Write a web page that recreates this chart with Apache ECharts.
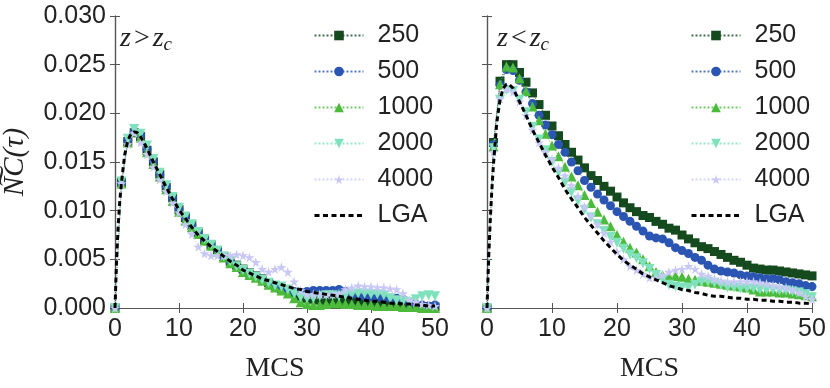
<!DOCTYPE html>
<html>
<head>
<meta charset="utf-8">
<script src="https://cdn.jsdelivr.net/npm/echarts@6/dist/echarts.min.js"></script>
<style>
  html, body { margin: 0; padding: 0; background: #fff; }
  #chart { width: 830px; height: 388px; }
</style>
</head>
<body>
<div id="chart"></div>
<script>
// MCS steps
const mcs = [0,1,2,3,4,5,6,7,8,9,10,11,12,13,14,15,16,17,18,19,20,21,22,23,24,25,
  26,27,28,29,30,31,32,33,34,35,36,37,38,39,40,41,42,43,44,45,46,47,48,49,50];
// LGA curve is sampled finer near the origin
const lgaT = [0,0.25,0.5,0.75,1,1.5,2,2.5,3,3.5,4,5,6,7,8,9,10,11,12,13,14,15,16,17,18,19,20,
  21,22,23,24,25,26,27,28,29,30,31,32,33,34,35,36,37,38,39,40,41,42,43,44,45,46,47,48,49,50];

const simNames = ['250', '500', '1000', '2000', '4000'];

// left panel, z > z_c
const left250 = [0,0.0129,0.0171,0.0180,0.0176,0.0162,0.0150,0.0137,0.0124,0.0113,0.0101,
  0.0093,0.0085,0.0077,0.0070,0.0065,0.0058,0.0053,0.0048,0.0044,0.0040,
  0.0036,0.0033,0.0030,0.0026,0.0023,0.0020,0.0018,0.0015,0.0012,0.0010,
  0.0009,0.0008,0.0007,0.0007,0.0007,0.0007,0.0007,0.0006,0.0006,0.0005,
  0.0004,0.0004,0.0003,0.0003,0.0002,0.0002,0.0002,0.0001,0.0001,0.0001];
const left500 = [0,0.0128,0.0172,0.0181,0.0177,0.0163,0.0151,0.0137,0.0125,0.0113,0.0102,
  0.0093,0.0085,0.0077,0.0071,0.0065,0.0059,0.0053,0.0047,0.0043,0.0039,
  0.0035,0.0032,0.0029,0.0026,0.0023,0.0021,0.0019,0.0017,0.0016,0.0017,
  0.0018,0.0018,0.0018,0.0018,0.0019,0.0017,0.0014,0.0013,0.0012,0.0011,
  0.0011,0.0011,0.0010,0.0010,0.0009,0.0006,0.0004,0.0003,0.0002,0.0003];
const left1000 = [0,0.0128,0.0170,0.0181,0.0175,0.0160,0.0148,0.0135,0.0122,0.0110,0.0099,
  0.0090,0.0083,0.0076,0.0069,0.0064,0.0058,0.0052,0.0046,0.0042,0.0037,
  0.0034,0.0031,0.0028,0.0024,0.0021,0.0018,0.0015,0.0010,0.0006,0.0004,
  0.0003,0.0003,0.0004,0.0005,0.0005,0.0004,0.0004,0.0003,0.0003,0.0003,
  0.0002,0.0002,0.0002,0.0002,0.0001,0.0001,0.0001,0.0000,0.0000,0.0000];
const left2000 = [0,0.0130,0.0174,0.0184,0.0179,0.0167,0.0153,0.0139,0.0126,0.0114,0.0103,
  0.0094,0.0086,0.0078,0.0071,0.0065,0.0059,0.0053,0.0048,0.0043,0.0039,
  0.0035,0.0032,0.0029,0.0026,0.0023,0.0022,0.0019,0.0015,0.0011,0.0010,
  0.0010,0.0012,0.0013,0.0013,0.0012,0.0013,0.0014,0.0015,0.0015,0.0014,
  0.0014,0.0013,0.0010,0.0008,0.0007,0.0006,0.0009,0.0012,0.0013,0.0012];
const left4000 = [0,0.0128,0.0168,0.0180,0.0170,0.0158,0.0145,0.0132,0.0120,0.0108,0.0098,
  0.0086,0.0076,0.0063,0.0056,0.0054,0.0054,0.0054,0.0054,0.0055,0.0054,
  0.0052,0.0047,0.0040,0.0037,0.0040,0.0042,0.0037,0.0027,0.0018,0.0014,
  0.0014,0.0014,0.0014,0.0014,0.0015,0.0019,0.0021,0.0023,0.0022,0.0022,
  0.0021,0.0021,0.0020,0.0019,0.0015,0.0008,0.0006,0.0004,0.0003,0.0002];
const leftLga = [0,0.0050,0.0085,0.0110,0.0128,0.0157,0.0172,0.0179,0.0181,0.0180,0.0176,
  0.0164,0.0150,0.0137,0.0124,0.0112,0.0101,0.0092,0.0083,0.0075,0.0069,
  0.0063,0.0058,0.0053,0.0048,0.0044,0.0039,0.0036,0.0033,0.0030,0.0028,
  0.0026,0.0024,0.0022,0.0020,0.0019,0.0017,0.0016,0.0015,0.0014,0.0013,
  0.0012,0.0011,0.0010,0.0009,0.0008,0.0007,0.0007,0.0006,0.0005,0.0005,
  0.0004,0.0004,0.0003,0.0003,0.0002,0.0002];

// right panel, z < z_c
const right250 = [0,0.0170,0.0233,0.0250,0.0250,0.0242,0.0232,0.0221,0.0209,0.0198,0.0187,
  0.0177,0.0168,0.0160,0.0152,0.0144,0.0136,0.0131,0.0125,0.0120,0.0114,
  0.0108,0.0103,0.0099,0.0095,0.0093,0.0089,0.0086,0.0082,0.0080,0.0075,
  0.0071,0.0067,0.0063,0.0061,0.0058,0.0055,0.0052,0.0049,0.0047,0.0044,
  0.0041,0.0040,0.0039,0.0039,0.0038,0.0037,0.0036,0.0035,0.0034,0.0033];
const right500 = [0,0.0168,0.0229,0.0245,0.0244,0.0234,0.0222,0.0210,0.0198,0.0188,0.0178,
  0.0168,0.0160,0.0150,0.0141,0.0131,0.0124,0.0117,0.0111,0.0105,0.0099,
  0.0094,0.0089,0.0084,0.0079,0.0074,0.0072,0.0071,0.0067,0.0062,0.0059,
  0.0056,0.0052,0.0049,0.0044,0.0040,0.0038,0.0037,0.0036,0.0034,0.0033,
  0.0032,0.0031,0.0030,0.0030,0.0029,0.0027,0.0026,0.0025,0.0023,0.0022];
const right1000 = [0,0.0166,0.0230,0.0248,0.0247,0.0236,0.0223,0.0207,0.0193,0.0179,0.0167,
  0.0156,0.0145,0.0135,0.0126,0.0116,0.0108,0.0099,0.0091,0.0084,0.0075,
  0.0068,0.0062,0.0057,0.0050,0.0043,0.0037,0.0034,0.0033,0.0033,0.0032,
  0.0030,0.0029,0.0028,0.0027,0.0026,0.0025,0.0024,0.0023,0.0022,0.0021,
  0.0019,0.0017,0.0017,0.0017,0.0016,0.0016,0.0015,0.0014,0.0013,0.0012];
const right2000 = [0,0.0164,0.0214,0.0224,0.0223,0.0214,0.0201,0.0186,0.0173,0.0162,0.0150,
  0.0139,0.0129,0.0119,0.0110,0.0101,0.0093,0.0086,0.0079,0.0073,0.0067,
  0.0061,0.0055,0.0051,0.0046,0.0040,0.0034,0.0029,0.0024,0.0022,0.0021,
  0.0021,0.0024,0.0027,0.0027,0.0026,0.0024,0.0021,0.0021,0.0020,0.0020,
  0.0020,0.0019,0.0019,0.0019,0.0018,0.0018,0.0017,0.0016,0.0014,0.0011];
const right4000 = [0,0.0160,0.0215,0.0225,0.0222,0.0212,0.0198,0.0183,0.0170,0.0160,0.0153,
  0.0144,0.0136,0.0126,0.0115,0.0104,0.0095,0.0086,0.0077,0.0068,0.0058,
  0.0050,0.0043,0.0039,0.0035,0.0031,0.0031,0.0034,0.0037,0.0039,0.0040,
  0.0043,0.0040,0.0035,0.0033,0.0030,0.0028,0.0027,0.0027,0.0027,0.0027,
  0.0027,0.0026,0.0025,0.0023,0.0022,0.0021,0.0019,0.0016,0.0012,0.0009];
const rightLga = [0,0.0050,0.0090,0.0122,0.0148,0.0190,0.0214,0.0226,0.0230,0.0229,0.0226,
  0.0212,0.0198,0.0183,0.0170,0.0157,0.0145,0.0134,0.0122,0.0112,0.0103,
  0.0093,0.0085,0.0077,0.0069,0.0062,0.0055,0.0049,0.0044,0.0040,0.0035,
  0.0032,0.0029,0.0026,0.0023,0.0021,0.0019,0.0018,0.0016,0.0015,0.0013,
  0.0012,0.0012,0.0011,0.0010,0.0010,0.0009,0.0009,0.0008,0.0008,0.0007,
  0.0007,0.0006,0.0006,0.0005,0.0005,0.0004];

const colors = ['#154a1f', '#2b55b3', '#4cba3b', '#7fe2bd', '#c8c8f7'];
const star = 'path://M50,0 L61,35 L98,35 L68,57 L79,91 L50,70 L21,91 L32,57 L2,35 L39,35 Z';
const symbols = ['rect', 'circle', 'triangle', 'triangle', star];
const rotates = [0, 0, 0, 180, 0];
const sizes = [9, 9, 10, 10, 10];

const panels = [
  { sims: [left250, left500, left1000, left2000, left4000], lga: leftLga },
  { sims: [right250, right500, right1000, right2000, right4000], lga: rightLga }
];

const pts = (xs, ys) => xs.map((x, i) => [x, ys[i]]);

const series = [];
panels.forEach((p, k) => {
  p.sims.forEach((ys, i) => {
    series.push({
      name: simNames[i],
      type: 'line',
      xAxisIndex: k * 2,
      yAxisIndex: k * 2,
      data: pts(mcs, ys),
      symbol: symbols[i],
      symbolSize: sizes[i],
      symbolRotate: rotates[i],
      itemStyle: { color: colors[i] },
      lineStyle: { type: 'dotted', width: 1, color: colors[i], opacity: 0.8 },
      z: 2 + i
    });
  });
  series.push({
    name: 'LGA',
    type: 'line',
    xAxisIndex: k * 2,
    yAxisIndex: k * 2,
    data: pts(lgaT, p.lga),
    symbol: 'none',
    lineStyle: { type: [5, 3.5], width: 3, color: '#000' },
    itemStyle: { color: '#000' },
    z: 10
  });
});

const axisCol = '#555';
const lblFont = { fontFamily: 'Liberation Sans', fontSize: 25, color: '#222' };

function xAx(grid, pos, labels) {
  return {
    type: 'value', gridIndex: grid, position: pos, min: 0, max: 50, interval: 10,
    axisLine: { lineStyle: { color: axisCol, width: 1.2 } },
    axisTick: { inside: true, length: 5, lineStyle: { color: axisCol } },
    axisLabel: Object.assign({ show: labels, margin: 9 }, lblFont),
    splitLine: { show: false },
    name: labels ? 'MCS' : '',
    nameLocation: 'middle',
    nameGap: 47,
    nameTextStyle: { fontFamily: 'Liberation Serif', fontSize: 28, color: '#222' }
  };
}
function yAx(grid, pos, labels, name) {
  return {
    type: 'value', gridIndex: grid, position: pos, min: 0, max: 0.03, interval: 0.005,
    axisLine: { show: true, lineStyle: { color: axisCol, width: 1.2 } },
    axisTick: { show: true, inside: true, length: 5, lineStyle: { color: axisCol } },
    axisLabel: Object.assign({ show: labels, margin: 9, formatter: v => v.toFixed(3) }, lblFont),
    splitLine: { show: false },
    name: name || '',
    nameLocation: 'middle',
    nameGap: 85,
    nameTextStyle: { fontFamily: 'Liberation Serif', fontStyle: 'italic', fontSize: 29, color: '#222' }
  };
}

function legendAt(left) {
  return {
    orient: 'vertical', left: left, top: 18, itemWidth: 49, itemHeight: 12, itemGap: 11,
    data: simNames.concat([{ name: 'LGA', itemStyle: { opacity: 0 },
      lineStyle: { width: 3, type: [5, 3.5], color: '#000' } }]),
    textStyle: { fontFamily: 'Liberation Sans', fontSize: 25, lineHeight: 24, color: '#222',
      padding: [0, 0, 0, 9] },
    selectedMode: false
  };
}

const rich = {
  i: { fontFamily: 'Liberation Serif', fontStyle: 'italic', fontWeight: 'normal', fontSize: 28, color: '#222' },
  o: { fontFamily: 'Liberation Serif', fontWeight: 'normal', fontSize: 28, color: '#222', padding: [0, 3, 0, 3] },
  s: { fontFamily: 'Liberation Serif', fontStyle: 'italic', fontWeight: 'normal', fontSize: 19, color: '#222',
    verticalAlign: 'bottom', padding: [12, 0, 0, 0] }
};

const chart = echarts.init(document.getElementById('chart'));
chart.setOption({
  animation: false,
  backgroundColor: '#fff',
  title: [
    { left: 115, top: 18, text: '{i|z}{o|>}{i|z}{s|c}', textStyle: { fontWeight: 'normal', rich: rich } },
    { left: 492, top: 18, text: '{i|z}{o|<}{i|z}{s|c}', textStyle: { fontWeight: 'normal', rich: rich } }
  ],
  legend: [legendAt(308), legendAt(685)],
  grid: [
    { left: 110, top: 16, width: 325, height: 305 },
    { left: 487, top: 16, width: 325, height: 305 }
  ],
  xAxis: [xAx(0, 'bottom', true), xAx(0, 'top', false), xAx(1, 'bottom', true), xAx(1, 'top', false)],
  yAxis: [yAx(0, 'left', true, 'N\u0360C(\u03c4)'), yAx(0, 'right', false), yAx(1, 'left', false), yAx(1, 'right', false)],
  series: series
});
</script>
</body>
</html>
